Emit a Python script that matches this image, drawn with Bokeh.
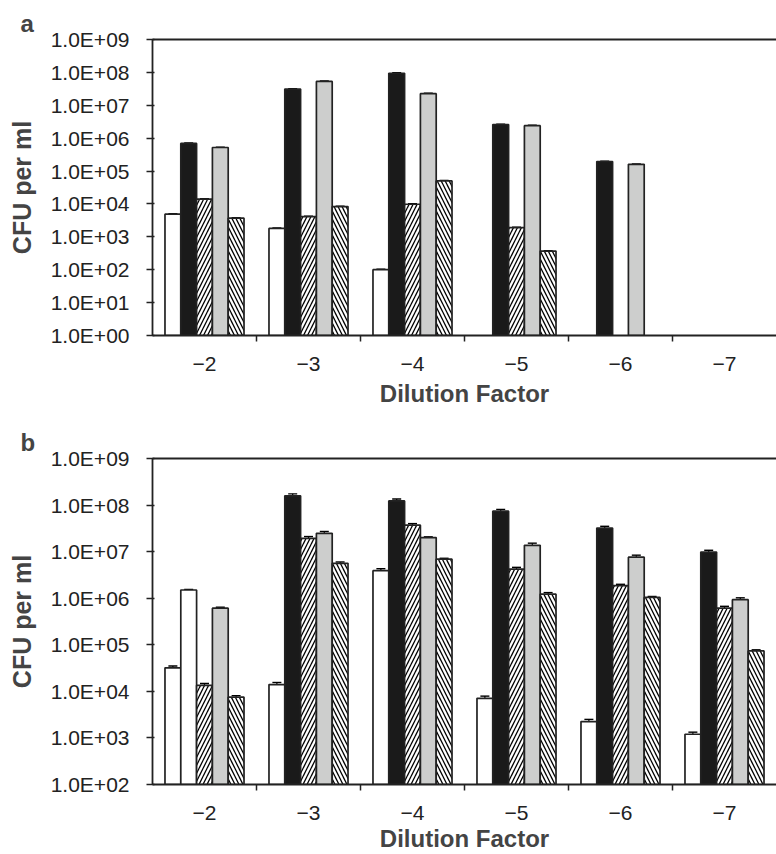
from bokeh.plotting import figure
from bokeh.layouts import column
from bokeh.models import (Range1d, FixedTicker, LogAxis, CustomJSTickFormatter,
                          ColumnDataSource, Whisker, TeeHead, Title)
from bokeh.embed import file_html
from bokeh.resources import INLINE

# ---------------- data ----------------
dilutions = ["\u22122", "\u22123", "\u22124", "\u22125", "\u22126", "\u22127"]

# Panel a (None = no bar)
a_white = [4.9e3, 1.8e3, 1.0e2, None, None, None]
a_black = [6.9e5, 3.1e7, 9.4e7, 2.6e6, 1.95e5, None]
a_hatch = [1.4e4, 4.1e3, 9.8e3, 1.9e3, None, None]
a_gray = [5.2e5, 5.3e7, 2.25e7, 2.4e6, 1.6e5, None]
a_bhatch = [3.7e3, 8.3e3, 5.0e4, 3.7e2, None, None]

a_white_err = [1.5e2, 6e1, 3, None, None, None]
a_black_err = [2e4, 1e6, 3e6, 8e4, 6e3, None]
a_hatch_err = [4e2, 1.2e2, 3e2, 6e1, None, None]
a_gray_err = [1.5e4, 1.6e6, 7e5, 7e4, 5e3, None]
a_bhatch_err = [1.1e2, 2.5e2, 1.5e3, 1.1e1, None, None]

# Panel b
b_white = [3.2e4, 1.4e4, 3.9e6, 7.1e3, 2.25e3, 1.2e3]
b_black = [1.5e6, 1.58e8, 1.23e8, 7.4e7, 3.2e7, 9.8e6]
b_hatch = [1.35e4, 1.93e7, 3.7e7, 4.2e6, 1.87e6, 6.1e5]
b_gray = [6.1e5, 2.47e7, 2.0e7, 1.37e7, 7.6e6, 9.3e5]
b_bhatch = [7.5e3, 5.6e6, 6.9e6, 1.22e6, 1.04e6, 7.4e4]

b_white_err = [3e3, 1.5e3, 4e5, 8e2, 2.5e2, 1.3e2]
b_black_err = [5e4, 1.6e7, 1.2e7, 7e6, 3e6, 9e5]
b_hatch_err = [1.2e3, 1.8e6, 3e6, 4e5, 1.2e5, 6e4]
b_gray_err = [3e4, 2.4e6, 8e5, 1.5e6, 8e5, 9e4]
b_bhatch_err = [6e2, 4e5, 3e5, 1e5, 5e4, 4e3]

# ---------------- style ----------------
BLACK = "#1a1a1a"
GRAY = "#cdcecd"
EDGE = "#222222"
FONT = "Liberation Sans"
offsets = [-0.304, -0.152, 0.0, 0.152, 0.304]
bar_w = 0.152
styles = [
    dict(fill="white", hatch=None),
    dict(fill=BLACK, hatch=None),
    dict(fill="white", hatch="/"),
    dict(fill=GRAY, hatch=None),
    dict(fill="white", hatch="\\"),
]


def make_panel(letter, series, errors, ymin, height, top_border, bottom_border,
               xlabel_standoff, fill_override=None):
    p = figure(width=776, height=height, y_axis_type="log",
               x_range=Range1d(0, 6), y_range=Range1d(ymin, 1e9),
               output_backend="svg", toolbar_location=None,
               min_border_left=152, min_border_right=0,
               min_border_top=top_border, min_border_bottom=bottom_border)
    p.grid.visible = False
    p.outline_line_color = None
    p.background_fill_color = "white"
    p.border_fill_color = "white"

    for si, (vals, errs) in enumerate(zip(series, errors)):
        xs, tops, fills, ups = [], [], [], []
        for gi, v in enumerate(vals):
            if v is None:
                continue
            xs.append(gi + 0.5 + offsets[si])
            tops.append(v)
            ups.append(v + errs[gi])
            f = styles[si]["fill"]
            if fill_override and (si, gi) in fill_override:
                f = fill_override[(si, gi)]
            fills.append(f)
        src = ColumnDataSource(dict(x=xs, top=tops, fill=fills, up=ups))
        kw = {}
        if styles[si]["hatch"]:
            kw = dict(hatch_pattern=styles[si]["hatch"], hatch_color="black",
                      hatch_scale=8, hatch_weight=1.3)
        p.vbar(x="x", top="top", bottom=ymin, width=bar_w, source=src,
               fill_color="fill", line_color=EDGE, line_width=1.7, **kw)
        w = Whisker(source=src, base="x", lower="top", upper="up",
                    line_color="black", line_width=1.2,
                    upper_head=TeeHead(size=9, line_color="black", line_width=1.4),
                    lower_head=None)
        p.add_layout(w)

    # y axis
    yax = p.yaxis[0]
    decades = [10.0 ** k for k in range(0, 10)]
    yax.ticker = FixedTicker(ticks=[d for d in decades if d >= ymin], minor_ticks=[])
    yax.formatter = CustomJSTickFormatter(code="""
        const e = Math.round(Math.log10(tick));
        return '1.0E+' + (e < 10 ? '0' + e : '' + e);
    """)
    yax.axis_label = "CFU per ml"
    yax.axis_label_text_font = FONT
    yax.axis_label_text_font_style = "bold"
    yax.axis_label_text_font_size = "25px"
    yax.axis_label_standoff = 12
    yax.major_label_text_font = FONT
    yax.major_label_text_font_size = "21px"
    yax.major_label_text_color = "#222222"
    yax.major_label_standoff = 17
    yax.major_tick_out = 6
    yax.major_tick_in = 2
    yax.major_tick_line_width = 1.5
    yax.major_tick_line_color = EDGE
    yax.axis_line_width = 1.8
    yax.axis_line_color = EDGE
    yax.minor_tick_line_color = None

    # x axis: labels at group centres, tick marks at group boundaries
    xax = p.xaxis[0]
    xax.ticker = FixedTicker(ticks=[i + 0.5 for i in range(6)],
                             minor_ticks=[1, 2, 3, 4, 5])
    xax.formatter = CustomJSTickFormatter(args=dict(labels=dilutions),
                                          code="return labels[Math.round(tick - 0.5)];")
    xax.major_tick_line_color = None
    xax.major_tick_out = 0
    xax.major_tick_in = 0
    xax.minor_tick_out = 6
    xax.minor_tick_in = 0
    xax.minor_tick_line_width = 1.5
    xax.minor_tick_line_color = EDGE
    xax.axis_line_width = 1.8
    xax.axis_line_color = EDGE
    xax.major_label_text_font = FONT
    xax.major_label_text_font_size = "21px"
    xax.major_label_text_color = "#222222"
    xax.major_label_standoff = 15
    xax.axis_label = "Dilution Factor"
    xax.axis_label_text_font = FONT
    xax.axis_label_text_font_style = "bold"
    xax.axis_label_text_font_size = "24px"
    xax.axis_label_standoff = xlabel_standoff

    # top frame line
    top = LogAxis(ticker=FixedTicker(ticks=[], minor_ticks=[]),
                  major_label_text_font_size="0px",
                  major_tick_line_color=None, minor_tick_line_color=None,
                  axis_line_width=1.8, axis_line_color=EDGE,
                  major_tick_out=0, major_tick_in=0, major_label_standoff=0)
    p.add_layout(top, "above")

    p.title = Title(text=letter, text_font=FONT, text_font_style="bold",
                    text_font_size="24px", align="left", offset=-132,
                    standoff=6)
    return p


pa = make_panel("a",
                [a_white, a_black, a_hatch, a_gray, a_bhatch],
                [a_white_err, a_black_err, a_hatch_err, a_gray_err, a_bhatch_err],
                1.0, 416, 39, 81, 6)
pb = make_panel("b",
                [b_white, b_black, b_hatch, b_gray, b_bhatch],
                [b_white_err, b_black_err, b_hatch_err, b_gray_err, b_bhatch_err],
                1e2, 438, 42, 70, 2, fill_override={(1, 0): "white"})

layout = column(pa, pb, spacing=0)
open("out.html", "w").write(file_html(layout, INLINE))
